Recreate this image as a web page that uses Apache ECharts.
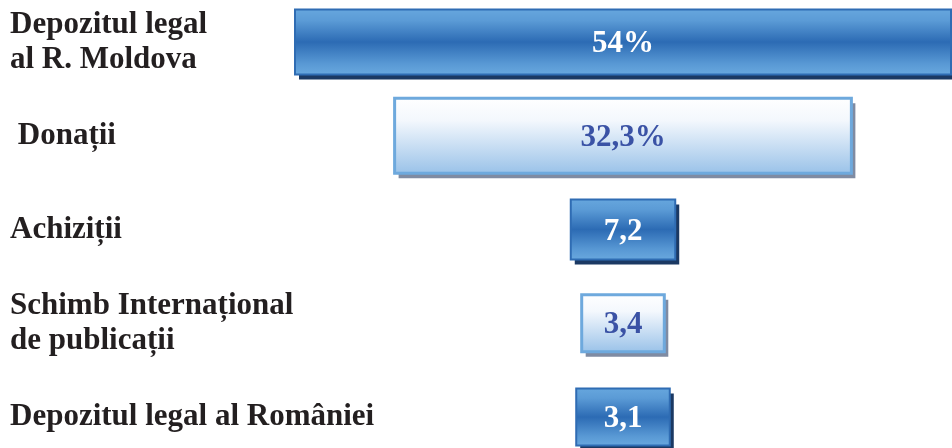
<!DOCTYPE html>
<html>
<head>
<meta charset="utf-8">
<script src="https://cdn.jsdelivr.net/npm/echarts@6/dist/echarts.min.js"></script>
<style>
  html, body { margin: 0; padding: 0; background: #fff; }
  #main { width: 952px; height: 448px; }
</style>
</head>
<body>
<div id="main"></div>
<script>
// categories, top to bottom
const categories = [
  "Depozitul legal\nal R. Moldova",
  " Donații",
  "Achiziții",
  "Schimb Internațional\nde publicații",
  "Depozitul legal al României",
];
// printed values (%)
const shares = [54, 32.3, 7.2, 3.4, 3.1];
const labels = ["54%", "32,3%", "7,2", "3,4", "3,1"];
// drawn bar widths, in the same axis units (bar 1 = 54)
const drawnWidth = [54, 37.6, 8.6, 6.8, 7.7];

const AXIS_MAX = 54;
const CENTER = AXIS_MAX / 2;
const thickness = [65, 75, 60, 57, 57]; //bar height in px
const dark = [true, false, true, false, true]; //blue bars vs pale bars
const FONT = "Liberation Serif";

const chart = echarts.init(document.getElementById("main"));

const darkFill = new echarts.graphic.LinearGradient(0, 0, 0, 1, [
  { offset: 0, color: "#67a7de" },
  { offset: 0.18, color: "#5b9bd6" },
  { offset: 0.5, color: "#2c6bb4" },
  { offset: 0.82, color: "#5898d4" },
  { offset: 1, color: "#6aa9df" },
]);
const paleFill = new echarts.graphic.LinearGradient(0, 0, 0, 1, [
  { offset: 0, color: "#ffffff" },
  { offset: 0.3, color: "#f4f8fd" },
  { offset: 1, color: "#98c1e8" },
]);

chart.setOption({
  animation: false,
  grid: { left: 295, right: 1, top: 42, bottom: 31 },
  xAxis: {
    type: "value",
    min: 0,
    max: AXIS_MAX,
    show: false,
  },
  yAxis: {
    type: "category",
    inverse: true,
    boundaryGap: false,
    data: categories,
    axisLine: { show: false },
    axisTick: { show: false },
    splitLine: { show: false },
    axisLabel: {
      align: "left",
      margin: 285,
      padding: [10, 0, 0, 0], //push the names a little lower
      color: "#231f20",
      fontFamily: FONT,
      fontWeight: "bold",
      fontSize: 31,
      lineHeight: 35,
    },
  },
  series: [
    {
      type: "custom",
      encode: { x: 0, y: 1 },
      data: drawnWidth.map((w, i) => [w, i, shares[i]]),
      renderItem: function (params, api) {
        const i = params.dataIndex;
        const w = api.value(0);
        const a = api.coord([CENTER - w / 2, i]);
        const b = api.coord([CENTER + w / 2, i]);
        const h = thickness[i];
        const isDark = dark[i];
        const rect = { x: a[0], y: a[1] - h / 2, width: b[0] - a[0], height: h };
        return {
          type: "group",
          children: [
            {
              // drop shadow
              type: "rect",
              shape: { x: rect.x + 4, y: rect.y + 5, width: rect.width, height: rect.height },
              style: { fill: isDark ? "#1b3963" : "#7f8ba2" },
            },
            {
              type: "rect",
              shape: rect,
              style: {
                fill: isDark ? darkFill : paleFill,
                stroke: isDark ? "#2f6cb3" : "#6ea9dd",
                lineWidth: isDark ? 2 : 3,
              },
            },
            {
              type: "text",
              x: (a[0] + b[0]) / 2,
              y: a[1] + 2,
              style: {
                text: labels[i],
                fill: isDark ? "#ffffff" : "#3a52a5",
                fontFamily: FONT,
                fontWeight: "bold",
                fontSize: 31,
                align: "center",
                verticalAlign: "middle",
              },
            },
          ],
        };
      },
    },
  ],
});
</script>
</body>
</html>
